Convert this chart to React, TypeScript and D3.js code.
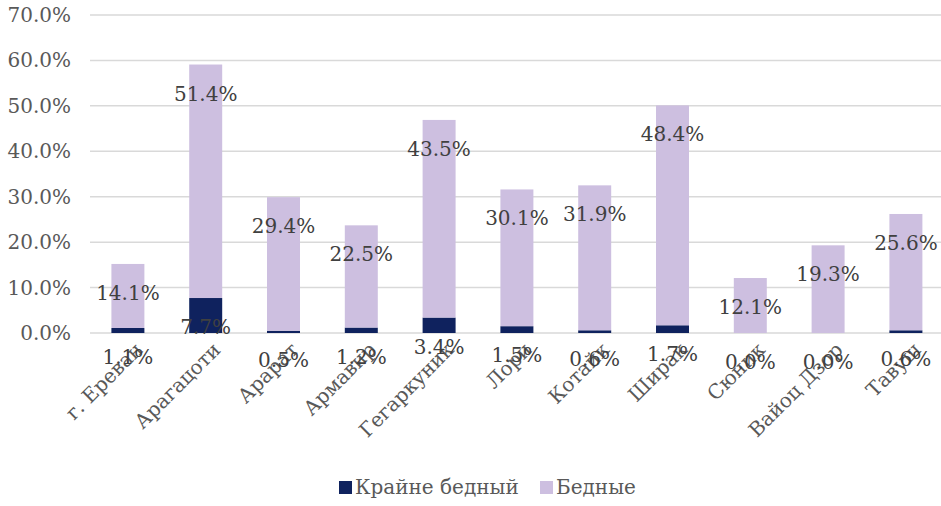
import React from "react";
import * as d3 from "d3";

const categories = ["г. Ереван", "Арагацоти", "Арарат", "Армавир", "Гегаркуник", "Лори", "Котайк", "Ширак", "Сюник", "Вайоц Дзор", "Тавуш"];
const extremePoor = [1.1, 7.7, 0.5, 1.2, 3.4, 1.5, 0.6, 1.7, 0.0, 0.0, 0.6];
const poor = [14.1, 51.4, 29.4, 22.5, 43.5, 30.1, 31.9, 48.4, 12.1, 19.3, 25.6];
const yTicks = [0, 10, 20, 30, 40, 50, 60, 70];
const seriesNames = ["Крайне бедный", "Бедные"];

const W = 941;
const H = 506;
const COLOR_EXTREME = "#0f225e";
const COLOR_POOR = "#cdbfe0";
const FONT = "'DejaVu Serif', 'Noto Serif', Tinos, FreeSerif, 'DejaVu Sans'";

export default function App() {
  const x = d3
    .scaleBand<string>()
    .domain(categories)
    .range([89, 89 + 77.8 * categories.length])
    .paddingInner(0.576)
    .paddingOuter(0.288);
  const y = d3.scaleLinear().domain([0, 70]).range([333, 15]);
  const fmt = (v: number) => v.toFixed(1) + "%";
  const bw = x.bandwidth();
  const labelOffset = 29;
  const fs = 20;

  return (
    <svg
      width={W}
      height={H}
      style={{ position: "absolute", left: 0, top: 0, background: "#fff", fontFamily: FONT }}
    >
      {yTicks.map((t) => (
        <g key={t}>
          <line x1={90} x2={W} y1={y(t)} y2={y(t)} stroke="#d9d9d9" strokeWidth={1.5} />
          <text x={71} y={y(t)} dy="0.35em" textAnchor="end" fontSize={fs} fill="#595959">
            {t.toFixed(1) + "%"}
          </text>
        </g>
      ))}
      {categories.map((c, i) => {
        const x0 = x(c)!;
        const e = extremePoor[i];
        const p = poor[i];
        return (
          <g key={c}>
            <rect x={x0} width={bw} y={y(e)} height={y(0) - y(e)} fill={COLOR_EXTREME} />
            <rect x={x0} width={bw} y={y(e + p)} height={y(e) - y(e + p)} fill={COLOR_POOR} />
          </g>
        );
      })}
      {categories.map((c, i) => {
        const cx = x(c)! + bw / 2;
        return (
          <text
            key={c}
            transform={`translate(${cx + 16},${351}) rotate(-45)`}
            textAnchor="end"
            fontSize={fs}
            fill="#595959"
          >
            {c}
          </text>
        );
      })}
      {categories.map((c, i) => {
        const cx = x(c)! + bw / 2;
        const e = extremePoor[i];
        const p = poor[i];
        return (
          <g key={c}>
            <text x={cx} y={y(e + p) + labelOffset} dy="0.35em" textAnchor="middle" fontSize={fs} fill="#404040">
              {fmt(p)}
            </text>
            <text x={cx} y={y(e) + labelOffset} dy="0.35em" textAnchor="middle" fontSize={fs} fill="#404040">
              {fmt(e)}
            </text>
          </g>
        );
      })}
      <g>
        <rect x={339} y={481} width={13} height={13} fill={COLOR_EXTREME} />
        <text x={355} y={494} fontSize={fs} fill="#595959">{seriesNames[0]}</text>
        <rect x={540} y={481} width={13} height={13} fill={COLOR_POOR} />
        <text x={556} y={494} fontSize={fs} fill="#595959">{seriesNames[1]}</text>
      </g>
    </svg>
  );
}
